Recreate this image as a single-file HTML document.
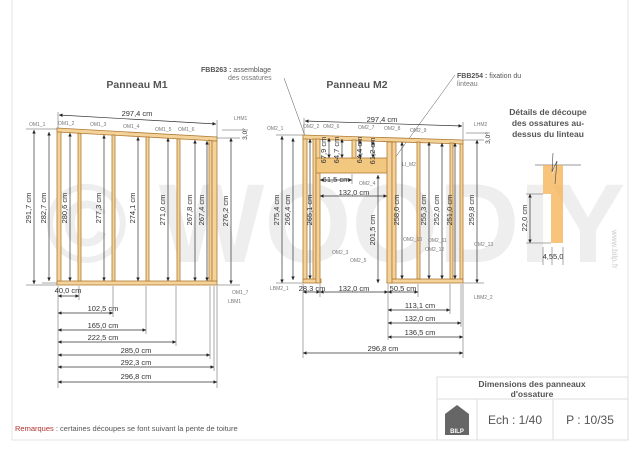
<!DOCTYPE html>
<html><head><meta charset="utf-8"><style>
html,body{margin:0;padding:0;background:#fff;}
svg{display:block;font-family:"Liberation Sans",sans-serif;}
.d{font-size:7.5px;fill:#333;}
.l{font-size:5px;fill:#777;}
.dim{stroke:#333;stroke-width:0.7;fill:none;}
.ext{stroke:#555;stroke-width:0.5;}
.w{fill:#f3d39a;stroke:#b07a34;stroke-width:0.8;}
</style></head><body>
<svg width="640" height="452" viewBox="0 0 640 452" xmlns="http://www.w3.org/2000/svg">
<defs>
<marker id="a" viewBox="0 0 6 6" refX="6" refY="3" markerWidth="5" markerHeight="5" orient="auto-start-reverse"><path d="M0,0L6,3L0,6z" fill="#222"/></marker>
</defs>
<line x1="12" y1="0" x2="12" y2="440" stroke="#e4e4e4"/>
<line x1="628" y1="0" x2="628" y2="440" stroke="#e4e4e4"/>
<line x1="12" y1="440" x2="628" y2="440" stroke="#e4e4e4"/>

<text x="45" y="262" font-size="112" font-weight="bold" fill="#000" fill-opacity="0.065" font-family="Liberation Sans,sans-serif">© WOODIY</text>
<text x="612" y="230" font-size="8" fill="#ccc" transform="rotate(90 612 230)">www.bilp.fr</text>

<text x="137" y="88" font-size="10.5" font-weight="bold" fill="#555" text-anchor="middle">Panneau M1</text>
<text x="357" y="88" font-size="10.5" font-weight="bold" fill="#555" text-anchor="middle">Panneau M2</text>
<text x="201" y="72" font-size="7" fill="#555"><tspan font-weight="bold">FBB263 :</tspan> assemblage</text>
<text x="228" y="80" font-size="7" fill="#777">des ossatures</text>
<text x="457" y="78" font-size="7" fill="#555"><tspan font-weight="bold">FBB254 :</tspan> fixation du</text>
<text x="457" y="86" font-size="7" fill="#777">linteau</text>
<line x1="284" y1="78" x2="305" y2="136" class="ext"/>
<line x1="455" y1="75" x2="392" y2="162" class="ext"/>

<polygon class="w" points="57,128 217,137 217,141 57,132"/>
<rect class="w" x="57" y="281" width="160" height="4"/>
<polygon class="w" points="57,132 61,132 61,281 57,281"/>
<polygon class="w" points="78,133 81,134 81,281 78,281"/>
<polygon class="w" points="112,135 115,135 115,281 112,281"/>
<polygon class="w" points="146,137 149,137 149,281 146,281"/>
<polygon class="w" points="177,139 180,139 180,281 177,281"/>
<polygon class="w" points="209,140 212,141 212,281 209,281"/>
<polygon class="w" points="212,141 217,141 217,281 212,281"/>
<g class="dim">
<line x1="34" y1="130" x2="34" y2="284" marker-start="url(#a)" marker-end="url(#a)"/>
<line x1="49" y1="132" x2="49" y2="281" marker-start="url(#a)" marker-end="url(#a)"/>
<line x1="70" y1="133" x2="70" y2="281" marker-start="url(#a)" marker-end="url(#a)"/>
<line x1="104" y1="135" x2="104" y2="281" marker-start="url(#a)" marker-end="url(#a)"/>
<line x1="138" y1="137" x2="138" y2="281" marker-start="url(#a)" marker-end="url(#a)"/>
<line x1="168" y1="138" x2="168" y2="281" marker-start="url(#a)" marker-end="url(#a)"/>
<line x1="195" y1="140" x2="195" y2="281" marker-start="url(#a)" marker-end="url(#a)"/>
<line x1="207" y1="141" x2="207" y2="281" marker-start="url(#a)" marker-end="url(#a)"/>
<line x1="231" y1="138" x2="231" y2="284" marker-start="url(#a)" marker-end="url(#a)"/>
<line x1="59" y1="115" x2="216" y2="124" marker-start="url(#a)" marker-end="url(#a)"/>
</g>
<g class="ext">
<line x1="26" y1="129" x2="57" y2="129"/><line x1="26" y1="285" x2="57" y2="285"/>
<line x1="42" y1="283" x2="57" y2="283"/>
<line x1="217" y1="138" x2="240" y2="138"/><line x1="217" y1="285" x2="240" y2="285"/>
<line x1="58" y1="112" x2="58" y2="128"/><line x1="217" y1="120" x2="217" y2="137"/>
<line x1="222" y1="130" x2="248" y2="130"/>
</g>
<g class="d">
<text transform="translate(31 208) rotate(-90)" text-anchor="middle">291,7 cm</text>
<text transform="translate(46 208) rotate(-90)" text-anchor="middle">282,7 cm</text>
<text transform="translate(67 208) rotate(-90)" text-anchor="middle">280,6 cm</text>
<text transform="translate(101 208) rotate(-90)" text-anchor="middle">277,3 cm</text>
<text transform="translate(135 208) rotate(-90)" text-anchor="middle">274,1 cm</text>
<text transform="translate(165 210) rotate(-90)" text-anchor="middle">271,0 cm</text>
<text transform="translate(192 210) rotate(-90)" text-anchor="middle">267,8 cm</text>
<text transform="translate(204 210) rotate(-90)" text-anchor="middle">267,4 cm</text>
<text transform="translate(228 211) rotate(-90)" text-anchor="middle">276,2 cm</text>
<text x="137" y="116" text-anchor="middle">297,4 cm</text>
<text transform="translate(247 134) rotate(-90)" text-anchor="middle" font-size="6.5">3,0°</text>
</g>
<g class="l">
<text x="29" y="126">OM1_1</text><text x="58" y="125">OM1_2</text><text x="90" y="126">OM1_3</text>
<text x="123" y="128">OM1_4</text><text x="155" y="131">OM1_5</text><text x="178" y="131">OM1_6</text>
<text x="234" y="120">LHM1</text><text x="232" y="294">OM1_7</text><text x="228" y="303">LBM1</text>
</g>
<g class="ext">
<line x1="58" y1="286" x2="58" y2="388"/>
<line x1="79" y1="286" x2="79" y2="300"/>
<line x1="113" y1="286" x2="113" y2="317"/>
<line x1="146" y1="286" x2="146" y2="334"/>
<line x1="176" y1="286" x2="176" y2="346"/>
<line x1="210" y1="286" x2="210" y2="359"/>
<line x1="214" y1="286" x2="214" y2="371"/>
<line x1="217" y1="286" x2="217" y2="388"/>
</g>
<g class="dim">
<line x1="58" y1="296" x2="79" y2="296" marker-start="url(#a)" marker-end="url(#a)"/>
<line x1="58" y1="313" x2="113" y2="313" marker-start="url(#a)" marker-end="url(#a)"/>
<line x1="58" y1="330" x2="146" y2="330" marker-start="url(#a)" marker-end="url(#a)"/>
<line x1="58" y1="342" x2="176" y2="342" marker-start="url(#a)" marker-end="url(#a)"/>
<line x1="58" y1="355" x2="210" y2="355" marker-start="url(#a)" marker-end="url(#a)"/>
<line x1="58" y1="367" x2="214" y2="367" marker-start="url(#a)" marker-end="url(#a)"/>
<line x1="58" y1="382" x2="217" y2="382" marker-start="url(#a)" marker-end="url(#a)"/>
</g>
<g class="d" text-anchor="middle">
<text x="68" y="293">40,0 cm</text>
<text x="103" y="311">102,5 cm</text>
<text x="103" y="328">165,0 cm</text>
<text x="103" y="340">222,5 cm</text>
<text x="136" y="353">285,0 cm</text>
<text x="136" y="365">292,3 cm</text>
<text x="136" y="379">296,8 cm</text>
</g>

<polygon class="w" points="303,135 463,140 463,144 303,139"/>
<rect class="w" x="303" y="279" width="18" height="4"/>
<rect class="w" x="387" y="279" width="76" height="4"/>
<rect class="w" x="303" y="139" width="4" height="140"/>
<rect class="w" x="313" y="139" width="3" height="140"/>
<rect class="w" x="316" y="139" width="4" height="144"/>
<rect class="w" x="316" y="158" width="76" height="15" style="fill:#f2c77f"/>
<rect class="w" x="352" y="140" width="4" height="18"/>
<rect class="w" x="387" y="142" width="5" height="141"/>
<rect class="w" x="392" y="142" width="4" height="137"/>
<rect class="w" x="417" y="142" width="3" height="137"/>
<rect class="w" x="450" y="143" width="3" height="136"/>
<rect class="w" x="460" y="144" width="3" height="135"/>
<g class="dim">
<line x1="282" y1="136" x2="282" y2="283" marker-start="url(#a)" marker-end="url(#a)"/>
<line x1="293" y1="138" x2="293" y2="280" marker-start="url(#a)" marker-end="url(#a)"/>
<line x1="310" y1="139" x2="310" y2="279" marker-start="url(#a)" marker-end="url(#a)"/>
<line x1="329" y1="138" x2="329" y2="158" marker-start="url(#a)" marker-end="url(#a)"/>
<line x1="342" y1="139" x2="342" y2="158" marker-start="url(#a)" marker-end="url(#a)"/>
<line x1="360" y1="140" x2="360" y2="158" marker-start="url(#a)" marker-end="url(#a)"/>
<line x1="373" y1="141" x2="373" y2="158" marker-start="url(#a)" marker-end="url(#a)"/>
<line x1="320" y1="180" x2="352" y2="180" marker-start="url(#a)" marker-end="url(#a)"/>
<line x1="320" y1="196" x2="387" y2="196" marker-start="url(#a)" marker-end="url(#a)"/>
<line x1="378" y1="175" x2="378" y2="283" marker-start="url(#a)" marker-end="url(#a)"/>
<line x1="402" y1="142" x2="402" y2="279" marker-start="url(#a)" marker-end="url(#a)"/>
<line x1="429" y1="142" x2="429" y2="279" marker-start="url(#a)" marker-end="url(#a)"/>
<line x1="442" y1="143" x2="442" y2="279" marker-start="url(#a)" marker-end="url(#a)"/>
<line x1="455" y1="143" x2="455" y2="279" marker-start="url(#a)" marker-end="url(#a)"/>
<line x1="477" y1="140" x2="477" y2="283" marker-start="url(#a)" marker-end="url(#a)"/>
<line x1="305" y1="121" x2="462" y2="126" marker-start="url(#a)" marker-end="url(#a)"/>
</g>
<g class="ext">
<line x1="276" y1="135" x2="303" y2="135"/><line x1="276" y1="283" x2="303" y2="283"/>
<line x1="463" y1="140" x2="484" y2="140"/><line x1="463" y1="283" x2="484" y2="283"/>
<line x1="304" y1="118" x2="304" y2="134"/><line x1="463" y1="122" x2="463" y2="139"/>
<line x1="466" y1="133" x2="490" y2="133"/>
<line x1="352" y1="174" x2="352" y2="184"/>
</g>
<g class="d">
<text transform="translate(279 210) rotate(-90)" text-anchor="middle">275,4 cm</text>
<text transform="translate(290 210) rotate(-90)" text-anchor="middle">266,4 cm</text>
<text transform="translate(312 210) rotate(-90)" text-anchor="middle">265,1 cm</text>
<text transform="translate(326 150) rotate(-90)" text-anchor="middle">67,9 cm</text>
<text transform="translate(339 150) rotate(-90)" text-anchor="middle">64,7 cm</text>
<text transform="translate(362 150) rotate(-90)" text-anchor="middle">64,4 cm</text>
<text transform="translate(375 151) rotate(-90)" text-anchor="middle">61,2 cm</text>
<text x="336" y="182" text-anchor="middle">61,5 cm</text>
<text x="354" y="195" text-anchor="middle">132,0 cm</text>
<text transform="translate(375 230) rotate(-90)" text-anchor="middle">201,5 cm</text>
<text transform="translate(399 210) rotate(-90)" text-anchor="middle">258,0 cm</text>
<text transform="translate(426 210) rotate(-90)" text-anchor="middle">255,3 cm</text>
<text transform="translate(439 210) rotate(-90)" text-anchor="middle">252,0 cm</text>
<text transform="translate(452 210) rotate(-90)" text-anchor="middle">251,0 cm</text>
<text transform="translate(474 210) rotate(-90)" text-anchor="middle">259,8 cm</text>
<text x="382" y="122" text-anchor="middle">297,4 cm</text>
<text transform="translate(490 138) rotate(-90)" text-anchor="middle" font-size="6.5">3,0°</text>
</g>
<g class="l">
<text x="267" y="130">OM2_1</text><text x="303" y="128">OM2_2</text><text x="323" y="128">OM2_6</text>
<text x="358" y="129">OM2_7</text><text x="384" y="130">OM2_8</text><text x="410" y="132">OM2_9</text>
<text x="474" y="126">LHM2</text><text x="402" y="166">LI_M2</text><text x="359" y="185">OM2_4</text>
<text x="332" y="254">OM2_3</text><text x="350" y="262">OM2_5</text><text x="403" y="241">OM2_10</text>
<text x="428" y="242">OM2_11</text><text x="425" y="251">OM2_12</text><text x="474" y="246">OM2_13</text>
<text x="270" y="290">LBM2_1</text><text x="474" y="299">LBM2_2</text>
</g>
<g class="ext">
<line x1="303" y1="284" x2="303" y2="358"/>
<line x1="320" y1="284" x2="320" y2="297"/>
<line x1="388" y1="284" x2="388" y2="340"/>
<line x1="418" y1="284" x2="418" y2="297"/>
<line x1="450" y1="284" x2="450" y2="314"/>
<line x1="461" y1="284" x2="461" y2="327"/>
<line x1="463" y1="284" x2="463" y2="358"/>
</g>
<g class="dim">
<line x1="303" y1="292" x2="320" y2="292" marker-start="url(#a)" marker-end="url(#a)"/>
<line x1="320" y1="292" x2="388" y2="292" marker-start="url(#a)" marker-end="url(#a)"/>
<line x1="388" y1="292" x2="418" y2="292" marker-start="url(#a)" marker-end="url(#a)"/>
<line x1="388" y1="310" x2="450" y2="310" marker-start="url(#a)" marker-end="url(#a)"/>
<line x1="388" y1="323" x2="461" y2="323" marker-start="url(#a)" marker-end="url(#a)"/>
<line x1="388" y1="337" x2="463" y2="337" marker-start="url(#a)" marker-end="url(#a)"/>
<line x1="303" y1="353" x2="463" y2="353" marker-start="url(#a)" marker-end="url(#a)"/>
</g>
<g class="d" text-anchor="middle">
<text x="312" y="291">28,3 cm</text>
<text x="354" y="291">132,0 cm</text>
<text x="403" y="291">50,5 cm</text>
<text x="420" y="308">113,1 cm</text>
<text x="420" y="321">132,0 cm</text>
<text x="420" y="335">136,5 cm</text>
<text x="383" y="351">296,8 cm</text>
</g>

<g fill="#555" font-size="8.5" font-weight="bold" text-anchor="middle">
<text x="548" y="115">Détails de découpe</text>
<text x="548" y="126">des ossatures au-</text>
<text x="548" y="137">dessus du linteau</text>
</g>
<line x1="535" y1="165" x2="581" y2="165" stroke="#777" stroke-width="0.8"/>
<polygon points="543,165 554,165 552,175 556,165 563,165 563,243 551,243 551,194 543,194" fill="#f5b050" fill-opacity="0.75"/>
<polyline points="553,153 552,172 557,161 555,184" fill="none" stroke="#444" stroke-width="0.6"/>
<line x1="526" y1="194" x2="543" y2="194" class="ext"/>
<line x1="526" y1="243" x2="551" y2="243" class="ext"/>
<line x1="530" y1="194" x2="530" y2="243" class="dim" marker-start="url(#a)" marker-end="url(#a)"/>
<text transform="translate(527 218) rotate(-90)" text-anchor="middle" class="d" font-size="6.5">22,0 cm</text>
<g class="ext"><line x1="543" y1="247" x2="543" y2="265"/><line x1="552" y1="247" x2="552" y2="265"/><line x1="563" y1="247" x2="563" y2="265"/></g>
<text x="553" y="259" text-anchor="middle" class="d" font-size="6.5">4,55,0</text>

<text x="15" y="431" font-size="7.5" fill="#555"><tspan fill="#b03030">Remarques</tspan> : certaines découpes se font suivant la pente de toiture</text>

<g stroke="#ddd" stroke-width="1" fill="none">
<rect x="437" y="377" width="191" height="63"/>
<line x1="437" y1="399" x2="628" y2="399"/>
<line x1="477" y1="399" x2="477" y2="440"/>
<line x1="553" y1="399" x2="553" y2="440"/>
</g>
<text x="532" y="387" font-size="8.5" font-weight="bold" fill="#555" text-anchor="middle">Dimensions des panneaux</text>
<text x="532" y="397" font-size="8.5" font-weight="bold" fill="#555" text-anchor="middle">d'ossature</text>
<text x="515" y="424" font-size="12" fill="#555" text-anchor="middle">Ech : 1/40</text>
<text x="590" y="424" font-size="12" fill="#555" text-anchor="middle">P : 10/35</text>
<polygon points="445,414 457,405 469,414 469,435 445,435" fill="#666"/>
<text x="457" y="433" font-size="6" font-weight="bold" fill="#fff" text-anchor="middle">BILP</text>
</svg>
</body></html>
